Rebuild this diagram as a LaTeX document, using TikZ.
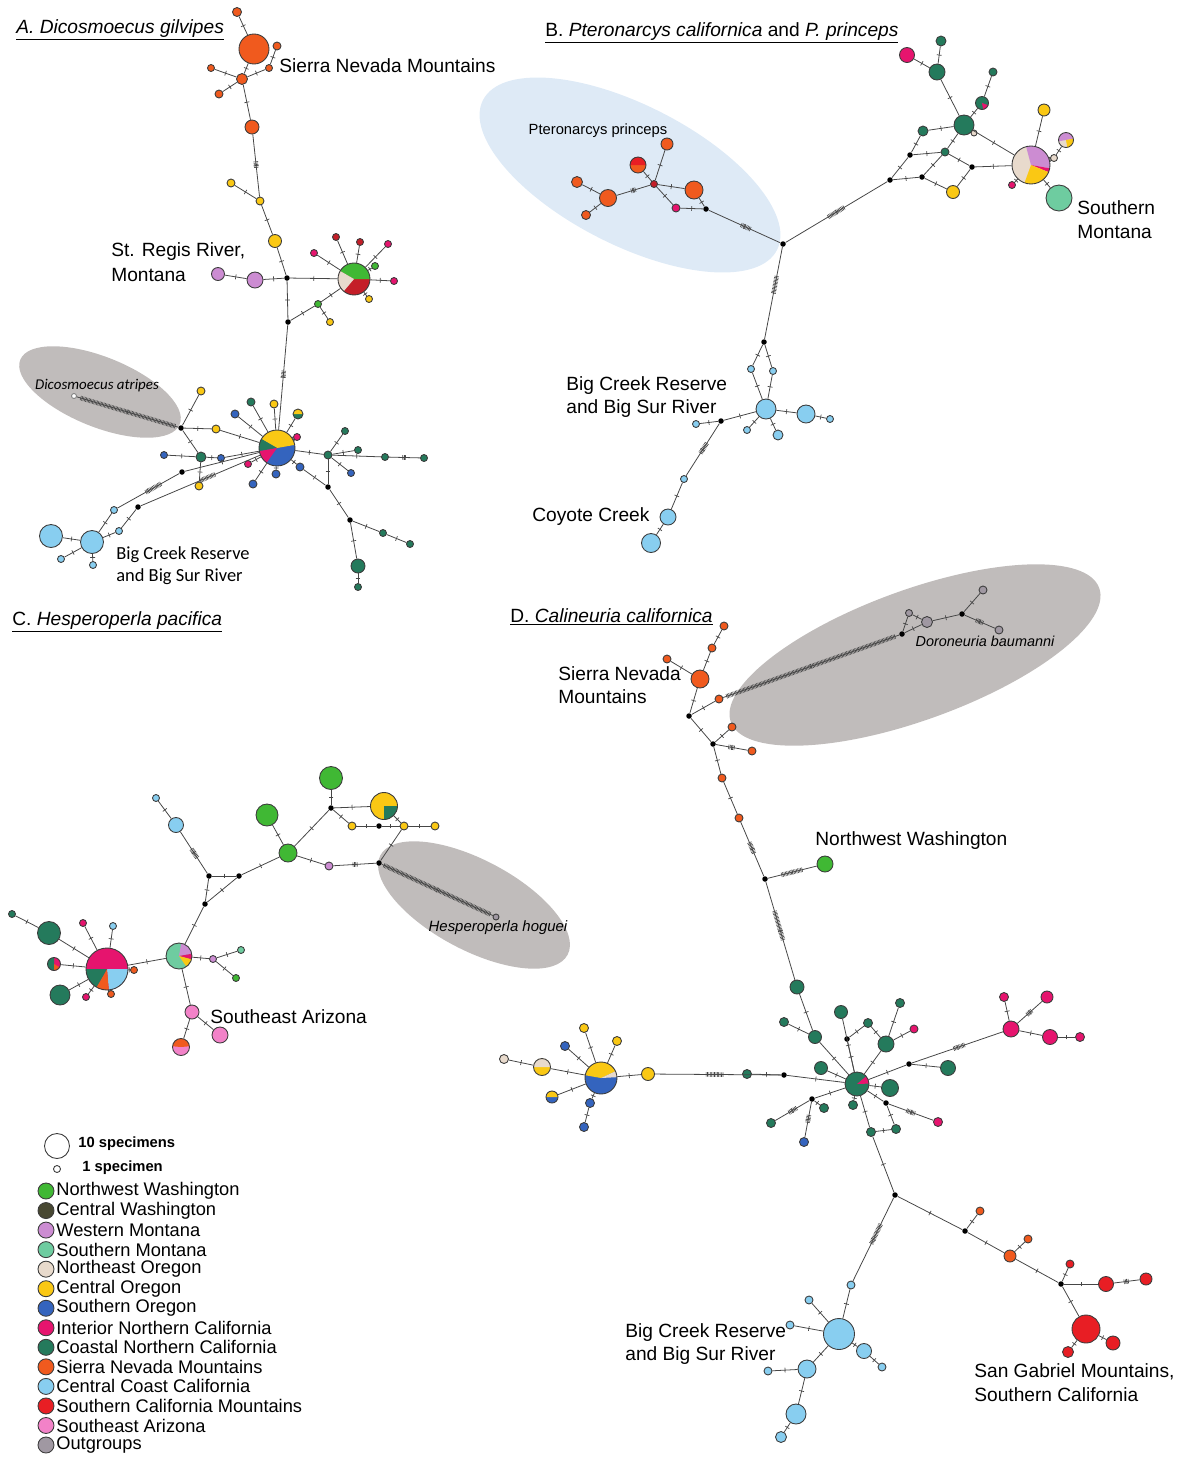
\documentclass[tikz,border=0pt]{standalone}
\usepackage{fontspec}
\setmainfont{Liberation Sans}
\newfontfamily\calfont{Carlito}
\usetikzlibrary{decorations.markings}

\definecolor{nwwa}{RGB}{64,184,52}
\definecolor{cewa}{RGB}{72,72,50}
\definecolor{wemt}{RGB}{204,140,210}
\definecolor{somt}{RGB}{110,204,160}
\definecolor{neor}{RGB}{232,218,204}
\definecolor{ceor}{RGB}{250,200,20}
\definecolor{soor}{RGB}{52,100,190}
\definecolor{inca}{RGB}{230,20,110}
\definecolor{coca}{RGB}{36,122,92}
\definecolor{sina}{RGB}{240,90,30}
\definecolor{ccca}{RGB}{136,206,240}
\definecolor{scam}{RGB}{232,30,36}
\definecolor{seaz}{RGB}{242,130,200}
\definecolor{outg}{RGB}{160,152,162}
\definecolor{dkred}{RGB}{196,30,40}
\definecolor{rim}{RGB}{60,60,60}
\definecolor{edge}{RGB}{70,70,70}
\definecolor{oval}{RGB}{192,188,187}
\definecolor{blueoval}{RGB}{222,234,246}

\newcommand\pcut[3]{\fill[#3] (path picture bounding box.center) -- ++(#1:40) arc[start angle=#1,end angle=#2,radius=40] -- cycle;}

\begin{document}
\begin{tikzpicture}[x=0.02cm,y=-0.02cm,
  hap/.style={circle,draw=rim,line width=0.5pt,inner sep=0pt,minimum size=#1*0.02cm},
  mv/.style={circle,fill=black,inner sep=0pt,minimum size=0.11cm},
  ln/.style={draw=edge,line width=0.45pt,postaction={decorate,decoration={markings,mark=at position 0.5 with {\draw[edge,line width=0.4pt] (0,-1.4pt) -- (0,1.4pt);}}}},
  hatch/.style 2 args={postaction={decorate,decoration={markings,mark=between positions #1 and #2 step 0.8pt with {\draw[edge,line width=0.35pt] (0,-1.3pt) -- (0,1.3pt);}}}},
  lab/.style={font=\fontsize{10.9}{12}\selectfont,inner sep=0pt,anchor=west},
  sml/.style={font=\fontsize{8.4}{10}\selectfont,inner sep=0pt},
  key/.style={font=\fontsize{10.4}{12}\selectfont,inner sep=0pt,anchor=west}]
\useasboundingbox (0,0) rectangle (1181,1458);

\fill[oval,rotate around={-22:(100,392)}] (100,392) ellipse[x radius=86,y radius=35];
\fill[blueoval,rotate around={-27:(630,175)}] (630,175) ellipse[x radius=165,y radius=70];
\fill[oval,rotate around={-28:(474,905)}] (474,905) ellipse[x radius=106,y radius=45];
\fill[oval,rotate around={20:(915,655)}] (915,655) ellipse[x radius=196,y radius=65];

\node[font=\fontsize{10.9}{12}\selectfont,inner sep=0pt,anchor=west] (tA) at (16,30) {\underline{\textit{A. Dicosmoecus gilvipes}}};
\node[font=\fontsize{10.9}{12}\selectfont,inner sep=0pt,anchor=west] (tB) at (545,33) {\underline{B. \textit{Pteronarcys californica} and \textit{P. princeps}}};
\node[font=\fontsize{10.9}{12}\selectfont,inner sep=0pt,anchor=west] (tC) at (12,622) {\underline{C. \textit{Hesperoperla pacifica}}};
\node[font=\fontsize{10.9}{12}\selectfont,inner sep=0pt,anchor=west] (tD) at (510,617) {\underline{D. \textit{Calineuria californica}}};

\foreach \n/\x/\y/\d/\c in {a1/237/12/9/sina, a2/254/49/30/sina, a3/277/46/8/sina, a4/269/68/7/sina, a5/242/79/11/sina, a6/211/68/7/sina, a7/219/94/8/sina, a8/252/127/14/sina, a9/231/183/8/ceor, a10/260/201/8/ceor, a11/275/241/13/ceor, a12/255/280/16/wemt, a13/218/274/13/wemt, a15/314/253/7/inca, a16/336/237/7/dkred, a17/360/242/7/dkred, a18/388/244/7/inca, a19/375/266/7/nwwa, a20/394/281/7/inca, a21/369/299/7/ceor, a22/318/304/7/nwwa, a23/330/322/7/ceor, a25/251/402/8/coca, a26/274/404/8/ceor, a28/235/414/8/soor, a29/297/437/7/inca, a30/248/464/7/inca, a31/276/474/8/soor, a32/253/484/8/soor, a33/300/467/8/soor, a34/328/455/8/coca, a35/345/431/7/coca, a36/358/450/7/coca, a37/351/473/7/soor, a38/385/457/7/coca, a39/424/458/7/coca, a40/383/533/7/coca, a41/410/544/7/coca, a42/358/566/14/coca, a43/358/587/7/coca, a45/201/391/8/ceor, a46/216/429/8/ceor, a47/201/457/10/coca, a48/164/455/7/soor, a49/221/458/7/soor, a50/199/486/8/ceor, a51/114/510/7/ccca, a52/119/531/7/ccca, a53/92/542/23/ccca, a54/51/536/23/ccca, a55/61/559/7/ccca, a56/93/565/7/ccca}
  \node[hap=\d,fill=\c] (\n) at (\x,\y) {};
\node[hap=5,fill=white,draw=gray] (a44) at (74,396) {};
\node[hap=32,fill=dkred,path picture={\pcut{-150}{0}{nwwa}\pcut{-230}{-150}{neor}}] (a14) at (354,279) {};
\node[hap=36,fill=soor,path picture={\pcut{-150}{-10}{ceor}\pcut{-190}{-150}{coca}\pcut{-235}{-190}{inca}}] (a24) at (277,448) {};
\node[hap=10,fill=coca,path picture={\pcut{-180}{0}{ceor}}] (a27) at (298,414) {};
\foreach \n/\x/\y in {m1/287/278, m2/288/322, m3/328/487, m4/350/520, m5/181/428, m6/182/472, m7/138/507}
  \node[mv] (\n) at (\x,\y) {};

\foreach \p/\q in {a1/a2, a3/a4, a4/a5, a2/a5, a6/a5, a7/a5, a5/a8, a9/a10, a10/a11, a11/m1, m1/a12, a12/a13, m1/a14, a14/a15, a14/a16, a14/a17, a14/a18, a14/a19, a14/a20, a14/a21, a14/a22, a22/m2, a22/a23, m1/m2, a24/a25, a24/a26, a24/a27, a24/a28, a24/a29, a24/a30, a24/a31, a24/a32, a24/a33, a33/m3, a24/a34, a34/a35, a34/a36, a34/a37, a34/a38, a34/m3, m3/m4, m4/a40, a40/a41, m4/a42, a42/a43, m5/a45, m5/a46, a46/a24, a24/a49, a49/a47, a47/a48, m5/a47, a47/a50, a24/m6, m7/a52, a52/a53, a51/a53, a53/a54, a53/a55, a53/a56}
  \draw[ln] (\p) -- (\q);
\draw[ln,hatch={0.44}{0.54}] (a8) -- (a10);
\draw[ln,hatch={0.44}{0.5}] (m2) -- (a24);
\draw[ln,hatch={0.03}{0.97}] (m5) -- (a44);
\draw[ln,hatch={0.44}{0.56}] (a38) -- (a39);
\draw[ln,hatch={0.3}{0.55}] (m6) -- (a51);
\draw[ln,hatch={0.38}{0.5}] (a24) -- (m7);

\node[lab] (lA1) at (279,66) {Sierra Nevada Mountains};
\node[lab] (lA2) at (111,252) {St. Regis River,};
\node[lab] (lA3) at (111,275) {Montana};
\node[lab,font=\calfont\fontsize{10.5}{12}\selectfont] (lA4) at (116,555) {Big Creek Reserve};
\node[lab,font=\calfont\fontsize{10.5}{12}\selectfont] (lA5) at (116,577) {and Big Sur River};
\node[sml,font=\calfont\itshape\fontsize{8.5}{10}\selectfont] (lA6) at (97,386) {Dicosmoecus atripes};

\foreach \n/\x/\y/\d/\c in {b1/676/208/8/inca, b2/694/190/18/sina, b3/654/184/7/dkred, b4/667/144/12/sina, b6/608/198/17/sina, b7/577/182/11/sina, b8/586/215/9/sina, b9/945/152/8/coca, b10/953/192/13/ceor, b11/923/131/10/coca, b12/964/125/20/coca, b13/974/133/6/neor, b15/993/72/8/coca, b16/937/72/16/coca, b17/941/41/10/coca, b18/907/55/15/inca, b20/1044/110/12/ceor, b22/1054/158/7/neor, b23/1012/185/7/inca, b24/1059/198/26/somt, b25/751/369/7/ccca, b26/773/371/7/ccca, b27/766/409/20/ccca, b28/806/414/18/ccca, b29/830/419/7/ccca, b30/747/430/7/ccca, b31/778/435/10/ccca, b32/696/424/7/ccca, b33/684/479/7/ccca, b34/668/517/16/ccca, b35/651/543/19/ccca}
  \node[hap=\d,fill=\c] (\n) at (\x,\y) {};
\node[hap=16,fill=sina,path picture={\pcut{-180}{0}{scam}}] (b5) at (638,165) {};
\node[hap=13,fill=coca,path picture={\pcut{20}{80}{inca}}] (b14) at (982,103) {};
\node[hap=38,fill=neor,path picture={\pcut{-105}{10}{wemt}\pcut{10}{22}{inca}\pcut{22}{110}{ceor}}] (b19) at (1031,165) {};
\node[hap=15,fill=neor,path picture={\pcut{-190}{-10}{wemt}\pcut{-10}{80}{ceor}}] (b21) at (1066,140) {};
\foreach \n/\x/\y in {bm1/783/244, bm2/706/209, bm3/890/180, bm4/910/155, bm5/922/177, bm6/972/167, bm7/764/342, bm8/721/421}
  \node[mv] (\n) at (\x,\y) {};

\foreach \p/\q in {bm2/b1, b1/b3, b3/b2, b2/bm2, b3/b4, b3/b5, b6/b7, b6/b8, bm3/bm4, bm3/bm5, bm4/b9, bm4/b11, bm5/b9, bm5/b10, b9/bm6, bm6/b10, bm6/b19, b9/b12, b11/b12, b12/b19, b12/b16, b16/b17, b16/b18, b12/b14, b14/b15, b19/b20, b19/b22, b22/b21, b19/b23, b19/b24, bm7/b25, bm7/b26, b25/b27, b26/b27, b27/b28, b28/b29, b27/b30, b27/b31, b27/bm8, bm8/b32, b33/b34, b34/b35}
  \draw[ln] (\p) -- (\q);
\draw[ln,hatch={0.42}{0.55}] (bm1) -- (bm2);
\draw[ln,hatch={0.44}{0.56}] (b3) -- (b6);
\draw[ln,hatch={0.42}{0.58}] (bm1) -- (bm3);
\draw[ln,hatch={0.32}{0.5}] (bm1) -- (bm7);
\draw[ln,hatch={0.38}{0.58}] (bm8) -- (b33);

\node[sml] (lB6) at (598,131) {Pteronarcys princeps};
\node[lab] (lB1) at (566,386) {Big Creek Reserve};
\node[lab] (lB2) at (566,409) {and Big Sur River};
\node[lab] (lB3) at (532,517) {Coyote Creek};
\node[lab] (lB4) at (1077,208) {Southern};
\node[lab] (lB5) at (1077,232) {Montana};

\foreach \n/\x/\y/\d/\c in {c1/496/917/6/outg, c2/329/866/8/wemt, c3/288/853/18/nwwa, c4/267/815/22/nwwa, c5/331/778/23/nwwa, c7/352/826/8/ceor, c8/404/826/8/ceor, c9/435/826/8/ceor, c10/176/825/15/ccca, c11/156/798/7/ccca, c13/213/959/7/wemt, c14/241/950/7/somt, c15/236/978/7/nwwa, c16/192/1012/14/seaz, c17/220/1035/16/seaz, c20/49/933/23/coca, c21/60/995/20/coca, c22/12/914/7/coca, c23/83/923/7/inca, c24/113/926/7/ccca, c26/86/997/7/inca, c27/111/994/7/sina, c28/134/970/7/sina}
  \node[hap=\d,fill=\c] (\n) at (\x,\y) {};
\node[hap=27,fill=ceor,path picture={\pcut{0}{90}{coca}}] (c6) at (384,806) {};
\node[hap=26,fill=somt,path picture={\pcut{-80}{-10}{wemt}\pcut{-10}{15}{inca}\pcut{15}{55}{ceor}}] (c12) at (179,956) {};
\node[hap=17,fill=seaz,path picture={\pcut{-175}{-5}{sina}}] (c18) at (181,1047) {};
\node[hap=42,fill=inca,path picture={\pcut{0}{85}{ccca}\pcut{85}{120}{sina}\pcut{120}{180}{coca}}] (c19) at (107,969) {};
\node[hap=13,fill=inca,path picture={\pcut{90}{270}{coca}\pcut{30}{90}{sina}}] (c25) at (54,964) {};
\foreach \n/\x/\y in {cm1/379/863, cm2/331/808, cm3/379/826, cm4/239/876, cm5/209/876, cm6/205/904}
  \node[mv] (\n) at (\x,\y) {};

\foreach \p/\q in {c2/c3, c3/c4, c3/cm2, cm2/c5, cm2/c6, cm2/c7, c7/cm3, cm3/c8, c8/c9, c6/c8, c8/cm1, c3/cm4, cm4/cm5, c10/c11, cm5/cm6, cm4/cm6, cm6/c12, c12/c13, c13/c14, c13/c15, c12/c16, c16/c17, c16/c18, c12/c19, c19/c20, c20/c22, c19/c23, c19/c24, c19/c25, c19/c21, c19/c26, c19/c27, c19/c28}
  \draw[ln] (\p) -- (\q);
\draw[ln,hatch={0.44}{0.56}] (cm1) -- (c2);
\draw[ln,hatch={0.38}{0.58}] (cm5) -- (c10);
\draw[ln,hatch={0.02}{0.98}] (cm1) -- (c1);

\node[lab] (lC1) at (210,1017) {Southeast Arizona};
\node[sml,font=\itshape\fontsize{8.5}{10}\selectfont] (lC2) at (498,928) {Hesperoperla hoguei};

\foreach \n/\x/\y/\d/\c in {d1/724/626/8/sina, d2/712/648/8/sina, d3/667/659/8/sina, d4/700/679/18/sina, d5/719/699/8/sina, d6/732/727/8/sina, d7/752/751/8/sina, d8/722/778/8/sina, d9/739/818/8/sina, d10/825/864/16/nwwa, d11/909/613/7/outg, d12/927/622/11/outg, d13/983/590/8/outg, d14/999/630/8/outg, d15/797/987/14/coca, d16/815/1037/13/coca, d17/784/1022/9/coca, d18/841/1012/13/coca, d19/868/1023/9/coca, d20/900/1003/9/coca, d21/914/1029/8/inca, d22/886/1044/16/coca, d23/821/1068/13/coca, d25/890/1088/17/coca, d26/948/1068/15/coca, d27/938/1122/9/inca, d28/896/1129/9/coca, d29/871/1132/9/coca, d30/853/1105/9/coca, d31/824/1108/9/coca, d32/771/1123/9/coca, d33/804/1142/9/soor, d34/747/1074/9/coca, d35/648/1074/13/ceor, d38/504/1059/9/neor, d39/584/1028/9/ceor, d40/565/1046/9/soor, d41/617/1041/9/ceor, d43/590/1103/9/soor, d44/584/1127/9/soor, d45/1011/1029/16/inca, d46/1004/997/9/inca, d47/1047/997/12/inca, d48/1050/1037/15/inca, d49/1080/1037/9/inca, d50/980/1211/8/sina, d51/1010/1256/12/sina, d52/1028/1239/8/sina, d53/1070/1264/8/scam, d54/1106/1284/15/scam, d55/1146/1279/12/scam, d56/1086/1329/28/scam, d57/1113/1343/14/scam, d58/1068/1352/11/scam, d59/851/1285/8/ccca, d60/839/1334/31/ccca, d61/809/1300/8/ccca, d62/790/1325/8/ccca, d63/864/1351/15/ccca, d64/882/1367/8/ccca, d65/807/1369/18/ccca, d66/768/1371/8/ccca, d67/796/1414/20/ccca, d68/781/1437/11/ccca}
  \node[hap=\d,fill=\c] (\n) at (\x,\y) {};
\node[hap=24,fill=coca,path picture={\pcut{-40}{-2}{inca}}] (d24) at (857,1084) {};
\node[hap=32,fill=soor,path picture={\pcut{-170}{-25}{ceor}\pcut{-25}{-3}{neor}}] (d36) at (601,1078) {};
\node[hap=17,fill=ceor,path picture={\pcut{-180}{0}{neor}}] (d37) at (542,1067) {};
\node[hap=12,fill=soor,path picture={\pcut{-180}{0}{ceor}}] (d42) at (552,1097) {};
\foreach \n/\x/\y in {dm1/689/716, dm2/713/744, dm3/765/879, dm4/902/634, dm5/962/614, dm6/847/1039, dm7/909/1064, dm8/886/1103, dm9/812/1099, dm10/784/1075, dm11/895/1195, dm12/965/1231, dm13/1061/1284}
  \node[mv] (\n) at (\x,\y) {};

\foreach \p/\q in {d1/d2, d2/d4, d3/d4, d4/dm1, dm1/d5, dm4/d11, d11/d12, dm4/d12, d12/dm5, dm5/d13, dm1/dm2, dm2/d6, dm2/d8, d8/d9, d15/d16, d16/d24, d17/d16, d18/d24, dm6/d24, dm6/d19, d19/d22, d20/d22, d21/d22, d22/d24, d23/d24, d24/dm7, dm7/d26, d45/d46, d45/d48, d48/d49, d24/d25, d24/dm8, dm8/d28, d28/d29, d24/d29, d24/d30, d24/dm9, dm9/d31, d24/dm10, dm10/d34, d35/d36, d36/d37, d37/d38, d36/d39, d36/d40, d36/d41, d36/d42, d36/d43, d43/d44, d29/dm11, dm11/dm12, dm12/d50, dm12/d51, d51/d52, d51/dm13, dm13/d53, dm13/d54, dm13/d56, d56/d57, d56/d58, d59/d60, d60/d61, d60/d62, d60/d63, d63/d64, d60/d65, d65/d66, d65/d67, d67/d68}
  \draw[ln] (\p) -- (\q);
\draw[ln,hatch={0.02}{0.98}] (d5) -- (dm4);
\draw[ln,hatch={0.38}{0.62}] (dm5) -- (d14);
\draw[ln,hatch={0.4}{0.6}] (dm2) -- (d7);
\draw[ln,hatch={0.38}{0.58}] (d9) -- (dm3);
\draw[ln,hatch={0.28}{0.72}] (dm3) -- (d10);
\draw[ln,hatch={0.3}{0.6}] (dm3) -- (d15);
\draw[ln,hatch={0.46}{0.58}] (dm7) -- (d45);
\draw[ln,hatch={0.4}{0.6}] (d45) -- (d47);
\draw[ln,hatch={0.4}{0.6}] (dm8) -- (d27);
\draw[ln,hatch={0.38}{0.6}] (dm9) -- (d32);
\draw[ln,hatch={0.38}{0.6}] (dm9) -- (d33);
\draw[ln,hatch={0.46}{0.6}] (dm10) -- (d35);
\draw[ln,hatch={0.32}{0.55}] (dm11) -- (d59);
\draw[ln,hatch={0.4}{0.6}] (d54) -- (d55);

\node[lab] (lD1) at (558,674) {Sierra Nevada};
\node[lab] (lD2) at (558,697) {Mountains};
\node[lab] (lD3) at (815,841) {Northwest Washington};
\node[lab] (lD4) at (625,1333) {Big Creek Reserve};
\node[lab] (lD5) at (625,1356) {and Big Sur River};
\node[lab] (lD6) at (974,1372) {San Gabriel Mountains,};
\node[lab] (lD7) at (974,1395) {Southern California};
\node[sml,font=\itshape\fontsize{8.2}{10}\selectfont] (lD8) at (985,641) {Doroneuria baumanni};

\node[hap=25,fill=white] (kten) at (57,1146) {};
\node[hap=7,fill=white] (kone) at (57,1169) {};
\node[key,font=\bfseries\fontsize{8.4}{10}\selectfont] (ktent) at (78,1144) {10 specimens};
\node[key,font=\bfseries\fontsize{8.4}{10}\selectfont] (konet) at (82,1168) {1 specimen};
\foreach \c/\t [count=\i] in {nwwa/Northwest Washington, cewa/Central Washington, wemt/Western Montana, somt/Southern Montana, neor/Northeast Oregon, ceor/Central Oregon, soor/Southern Oregon, inca/Interior Northern California, coca/Coastal Northern California, sina/Sierra Nevada Mountains, ccca/Central Coast California, scam/Southern California Mountains, seaz/Southeast Arizona, outg/Outgroups}
{
  \node[hap=16,fill=\c] (key\i) at (46,{1191+19.54*(\i-1)}) {};
  \node[key] (keyt\i) at (56,{1191+19.54*(\i-1)}) {\t};
}
\end{tikzpicture}
\end{document}
